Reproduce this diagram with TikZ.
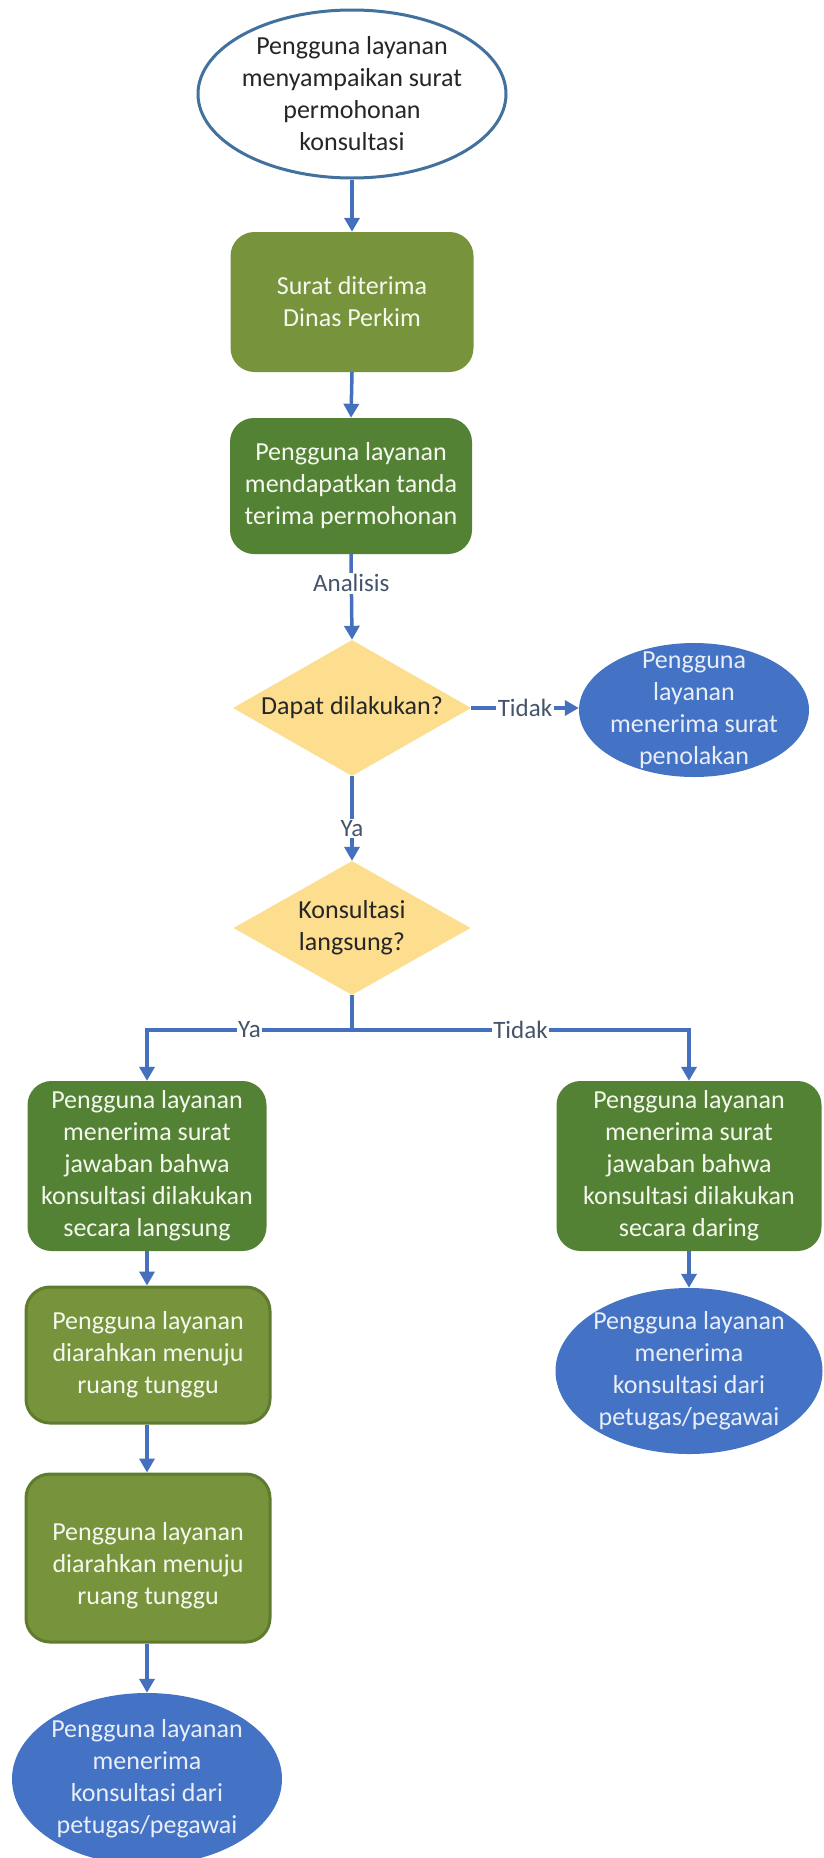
\documentclass[tikz,border=0pt]{standalone}
\usepackage{fontspec}
\setmainfont{Carlito}
\usetikzlibrary{shapes.geometric,arrows.meta}
\definecolor{cOlive}{HTML}{77933C}
\definecolor{cOliveRim}{HTML}{5E7B2E}
\definecolor{cDark}{HTML}{548235}
\definecolor{cGold}{HTML}{FCDE8E}
\definecolor{cBlue}{HTML}{4472C4}
\definecolor{cRim}{HTML}{41719C}
\definecolor{cLine}{HTML}{4570BE}
\definecolor{cLbl}{HTML}{44546A}
\definecolor{cTxtG}{HTML}{F5F8EE}
\definecolor{cTxtB}{HTML}{E8EEF8}
\begin{document}
\begin{tikzpicture}[x=1pt,y=-1pt,
  every node/.style={font=\fontsize{26pt}{32pt}\selectfont, inner sep=0pt},
  arr/.style={draw=cLine, line width=3.5pt, -{Triangle[length=14pt,width=15pt]}},
  ln/.style={draw=cLine, line width=3.5pt},
  lbl/.style={fill=white, inner sep=1.5pt, text=cLbl, font=\fontsize{25pt}{30pt}\selectfont},
  gbox/.style={rectangle, rounded corners=24pt, align=center, text=cTxtG},
  lightbox/.style={gbox, fill=cOlive},
  rimbox/.style={gbox, fill=cOlive, draw=cOliveRim, line width=3pt},
  darkbox/.style={gbox, fill=cDark},
  decision/.style={diamond, fill=cGold, align=center, text=black!85, aspect=1.75},
  blueell/.style={ellipse, fill=cBlue},
  elltext/.style={align=center, text=cTxtB},
  startell/.style={ellipse, fill=white, draw=cRim, line width=3pt}
]
\fill[white] (0,0) rectangle (823,1858);
\useasboundingbox (0,0) rectangle (823,1858);

% start
\node[startell, minimum width=308pt, minimum height=168pt] (start) at (352,94) {};
\node[align=center, text=black!85] (startT) at (start.center) {Pengguna layanan\\menyampaikan surat\\permohonan\\konsultasi};

\node[lightbox, minimum width=243pt, minimum height=140pt] (box1) at (352,302) {Surat diterima\\Dinas Perkim};
\node[darkbox, minimum width=242pt, minimum height=136pt] (box2) at (351,486) {Pengguna layanan\\mendapatkan tanda\\terima permohonan};

\node[decision, minimum width=238pt, minimum height=136pt] (d1) at (352,708) {Dapat dilakukan?};

\node[blueell, minimum width=230pt, minimum height=134pt] (rej) at (694,710) {};
\node[elltext] (rejT) at (rej.center) {Pengguna\\layanan\\menerima surat\\penolakan};

\node[decision, minimum width=237pt, minimum height=134pt] (d2) at (352,928) {Konsultasi\\langsung?};
\coordinate (br) at (352,1030);

\node[darkbox, minimum width=239pt, minimum height=170pt] (lbox) at (147,1166) {Pengguna layanan\\menerima surat\\jawaban bahwa\\konsultasi dilakukan\\secara langsung};
\node[darkbox, minimum width=265pt, minimum height=170pt] (rbox) at (689,1166) {Pengguna layanan\\menerima surat\\jawaban bahwa\\konsultasi dilakukan\\secara daring};

\node[rimbox, minimum width=244pt, minimum height=136pt] (box3) at (148,1355) {Pengguna layanan\\diarahkan menuju\\ruang tunggu};
\node[rimbox, minimum width=244pt, minimum height=168pt] (box4) at (148,1558) {};
\node[align=center, text=cTxtG] (box4T) at ([yshift=-8pt]box4.center) {Pengguna layanan\\diarahkan menuju\\ruang tunggu};

\node[blueell, minimum width=270pt, minimum height=172pt] (lell) at (147,1779) {};
\node[elltext] (lellT) at (lell.center) {Pengguna layanan\\menerima\\konsultasi dari\\petugas/pegawai};

\node[blueell, minimum width=267pt, minimum height=166pt] (rell) at (689,1371) {};
\node[elltext] (rellT) at (rell.center) {Pengguna layanan\\menerima\\konsultasi dari\\petugas/pegawai};

% connectors
\draw[arr] (start.south) -- (box1.north);
\draw[arr] (box1.south) -- (box2.north);
\draw[arr] (box2.south) -- node[lbl, pos=0.34] {Analisis} (d1.north);
\draw[arr] (d1.east) -- node[lbl] {Tidak} (d1.east -| rej.west);
\draw[arr] (d1.south) -- node[lbl, pos=0.62] {Ya} (d2.north);
\draw[ln] (d2.south) -- (br);
\draw[arr] (br) -| node[lbl, pos=0.25] {Ya} (lbox.north);
\draw[arr] (br) -| node[lbl, pos=0.25] {Tidak} (rbox.north);
\draw[arr] (lbox.south) -- (box3.north -| lbox.south);
\draw[arr] (box3.south -| lbox.south) -- (box4.north -| lbox.south);
\draw[arr] (box4.south -| lbox.south) -- (lell.north);
\draw[arr] (rbox.south) -- (rell.north);
\end{tikzpicture}
\end{document}
